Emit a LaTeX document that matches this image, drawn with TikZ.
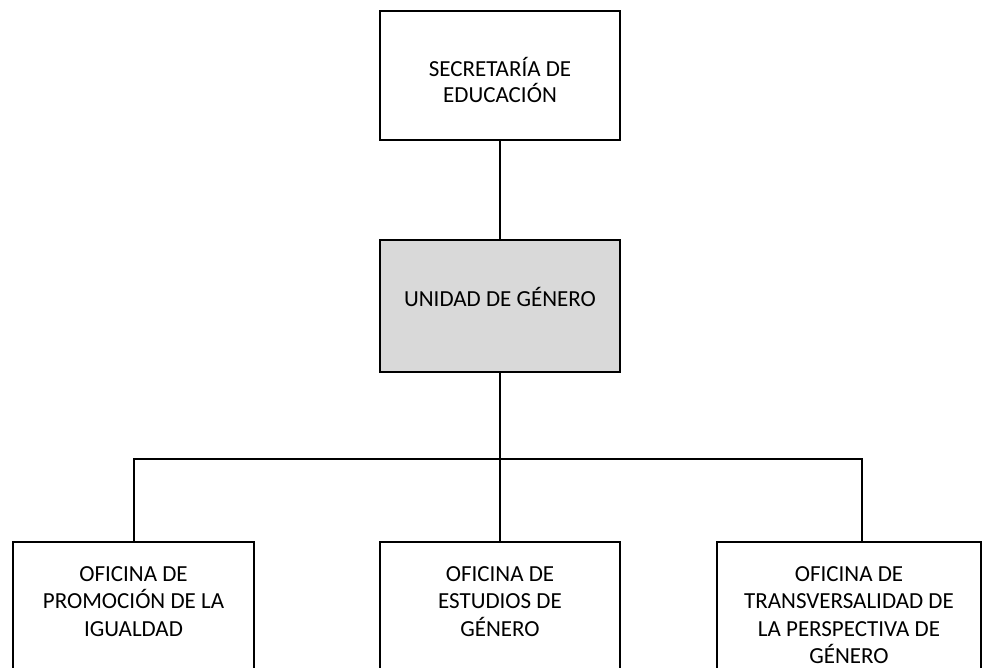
\documentclass[tikz,border=0pt]{standalone}
\usepackage{fontspec}
\setmainfont{Carlito}
\usetikzlibrary{positioning}

\tikzset{
    orgbox/.style={draw=black, line width=2pt, inner sep=0pt, minimum width=240pt},
    unitbox/.style={orgbox, fill=black!15},
    officebox/.style={draw=black, line width=2pt, inner sep=0pt, anchor=north,
        minimum height=160pt},
    boxtext/.style={align=center, inner sep=0pt, anchor=north,
        font=\fontsize{23}{26}\selectfont},
    officetext/.style={boxtext, font=\fontsize{23}{27.5}\selectfont},
    link/.style={draw=black, line width=2pt}
}

\begin{document}
\begin{tikzpicture}[x=1pt,y=-1pt]
    \useasboundingbox (0,0) rectangle (987,668);
    \clip (0,0) rectangle (987,668);

    % Top of the chart
    \node[orgbox, minimum height=129pt] (sec) at (500,75.5) {};
    \node[unitbox, minimum height=131.5pt] (unidad) at (500,305.75) {};
    \node[boxtext, below=47pt of sec.north] (sectext) {SECRETARÍA DE\\EDUCACIÓN};
    \node[boxtext, below=48pt of unidad.north] (unidadtext) {UNIDAD DE GÉNERO};

    % Offices (cut off at the bottom edge)
    \node[officebox, minimum width=241pt] (promo) at (133.5,541) {};
    \node[officebox, minimum width=240pt] (estudios) at (500,541) {};
    \node[officebox, minimum width=264pt] (transv) at (849,541) {};

    \node[officetext, below=25pt of promo.north] (promotext)
        {OFICINA DE\\PROMOCIÓN DE LA\\IGUALDAD};
    \node[officetext, below=25pt of estudios.north] (estudiostext)
        {OFICINA DE\\ESTUDIOS DE\\GÉNERO};
    \node[officetext, below=25pt of transv.north] (transvtext)
        {OFICINA DE\\TRANSVERSALIDAD DE\\LA PERSPECTIVA DE\\GÉNERO};

    % Connectors
    \coordinate (bus) at (500,458.5);
    \coordinate (dropright) at (862,541);
    \draw[link] (sec.south) -- (unidad.north);
    \draw[link] (unidad.south) -- (bus);
    \draw[link] (promo.north) |- (bus) -| (dropright);
    \draw[link] (bus) -- (estudios.north);
\end{tikzpicture}
\end{document}
